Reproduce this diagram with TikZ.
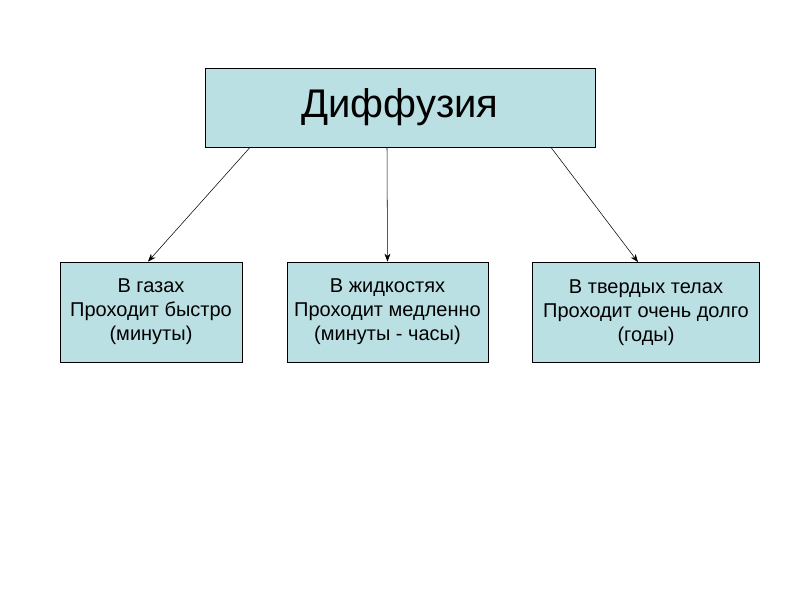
\documentclass[tikz,border=0pt]{standalone}
\usepackage{fontspec}
\setmainfont{Liberation Sans}
\usetikzlibrary{arrows.meta,positioning}
\definecolor{boxfill}{RGB}{187,224,228}

\begin{document}
\begin{tikzpicture}[x=0.75pt,y=-0.75pt,
  ->,>={Stealth[length=6pt,width=4.5pt]},thin,
  box/.style={draw=black,fill=boxfill,semithick,inner sep=0pt,align=center,
    minimum height=75pt,font=\fontsize{15}{18}\selectfont}]
\useasboundingbox (0,0) rectangle (800,600);
\node[box,minimum width=292.5pt,minimum height=59.25pt,
  font=\fontsize{30}{34}\selectfont] (diff) at (400,107.5) {Диффузия};
\node[box,minimum width=136.5pt] (gas) at (151,312) {В газах\\Проходит быстро\\(минуты)};
\node[box,minimum width=150.75pt] (liquid) at (387.5,312) {В жидкостях\\Проходит медленно\\(минуты - часы)};
\node[box,minimum width=170.25pt] (solid) at (646,312.5) {В твердых телах\\Проходит очень долго\\(годы)};
\draw ([xshift=-112.5pt]diff.south) -- ([xshift=-2.25pt]gas.north);
\draw ([xshift=-9.75pt]diff.south) -- (liquid.north);
\draw ([xshift=113.25pt]diff.south) -- ([xshift=-6pt]solid.north);
\end{tikzpicture}
\end{document}
